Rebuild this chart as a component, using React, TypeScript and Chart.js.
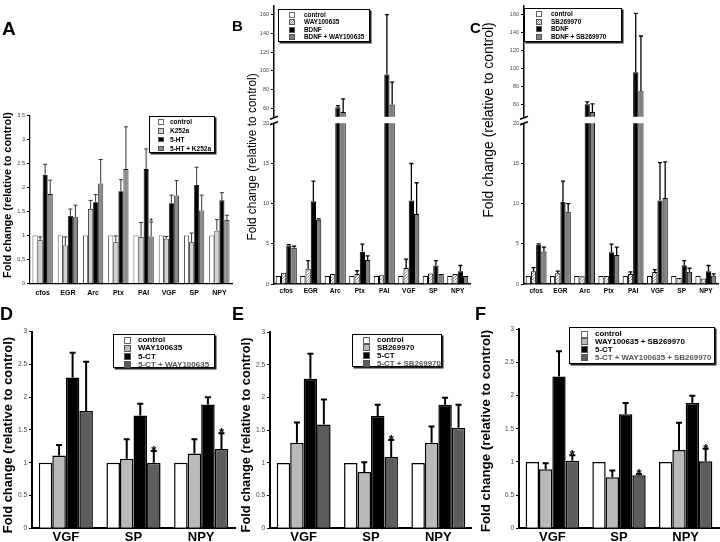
import React, { useEffect, useRef } from 'react';
import { Chart, registerables } from 'chart.js';
Chart.register(...registerables);

const FONT = '"Liberation Sans", Arial, Helvetica, sans-serif';
const YTITLE = 'Fold change (relative to control)';

// ---------- Panel A ----------
const genes = ['cfos', 'EGR', 'Arc', 'Ptx', 'PAI', 'VGF', 'SP', 'NPY'];
const seriesA = ['control', 'K252a', '5-HT', '5-HT + K252a'];
const aControl = [1, 1, 1, 1, 1, 1, 1, 1];
const aControlSd = [0, 0, 0, 0, 0, 0, 0, 0];
const aK252a = [0.9, 0.79, 1.55, 0.86, 0.97, 0.93, 0.86, 1.1];
const aK252aSd = [0.07, 0.18, 0.18, 0.13, 0.3, 0.05, 0.19, 0.23];
const a5HT = [2.26, 1.41, 1.69, 1.92, 2.38, 1.67, 2.05, 1.73];
const a5HTSd = [0.22, 0.14, 0.16, 0.24, 0.42, 0.17, 0.37, 0.16];
const a5HTK = [1.86, 1.38, 2.08, 2.38, 0.98, 1.83, 1.52, 1.32];
const a5HTKSd = [0.29, 0.25, 0.5, 0.88, 0.3, 0.31, 0.32, 0.1];
const aStars = [4];
const aTicks = [0, 0.5, 1, 1.5, 2, 2.5, 3, 3.5];

// ---------- Panel B ----------
const seriesB = ['control', 'WAY100635', 'BDNF', 'BDNF + WAY100635'];
const bControl = [1, 1, 1, 1, 1, 1, 1, 1];
const bControlSd = [0, 0, 0, 0, 0, 0, 0, 0];
const bWay = [1.4, 1.9, 1.25, 1.25, 1.1, 2.0, 1.3, 1.25];
const bWaySd = [0, 1.0, 0, 0.4, 0, 1.1, 0, 0];
const bBdnf = [4.8, 10.3, 61, 4.0, 96, 10.4, 2.3, 1.6];
const bBdnfSd = [0.1, 2.5, 1.8, 0.96, 64, 4.6, 0.6, 0.7];
const bCombo = [4.5, 8.0, 56, 3.0, 64, 8.7, 1.25, 1.0];
const bComboSd = [0.2, 0.1, 14, 0.5, 24, 3.9, 0, 0];

// ---------- Panel C ----------
const seriesC = ['control', 'SB269970', 'BDNF', 'BDNF + SB269970'];
const cControl = [1, 1, 1, 1, 1, 1, 1, 1];
const cControlSd = [0, 0, 0, 0, 0, 0, 0, 0];
const cSb = [1.58, 1.33, 0.95, 1.0, 1.25, 1.5, 0.75, 0.67];
const cSbSd = [0.47, 0.27, 0, 0, 0.25, 0.3, 0, 0];
const cBdnf = [4.9, 10.2, 60.5, 3.96, 96, 10.4, 2.33, 1.6];
const cBdnfSd = [0.1, 2.6, 2.5, 1.0, 65, 4.7, 0.57, 0.7];
const cCombo = [4.04, 9.0, 52, 3.6, 75, 10.7, 1.54, 1.04];
const cComboSd = [0.56, 1.0, 9, 1.0, 61, 4.5, 0.42, 0.21];

const bcTopTicks = [60, 80, 100, 120, 140, 160];
const bcLowTicks = [0, 5, 10, 15, 20];

// ---------- Panels D, E, F ----------
const peptides = ['VGF', 'SP', 'NPY'];
const defTicks = [0, 0.5, 1, 1.5, 2, 2.5, 3];

const seriesD = ['control', 'WAY100635', '5-CT', '5-CT + WAY100635'];
const dControl = [1, 1, 1];
const dControlSd = [0, 0, 0];
const dWay = [1.11, 1.06, 1.14];
const dWaySd = [0.16, 0.3, 0.22];
const d5ct = [2.3, 1.72, 1.89];
const d5ctSd = [0.38, 0.18, 0.11];
const dCombo = [1.79, 1.0, 1.21];
const dComboSd = [0.75, 0.18, 0.24];
const dStars = [1, 2];

const seriesE = ['control', 'SB269970', '5-CT', '5-CT + SB269970'];
const eControl = [1, 1, 1];
const eControlSd = [0, 0, 0];
const eSb = [1.31, 0.86, 1.31];
const eSbSd = [0.31, 0.15, 0.25];
const e5ct = [2.29, 1.72, 1.89];
const e5ctSd = [0.38, 0.17, 0.11];
const eCombo = [1.59, 1.09, 1.54];
const eComboSd = [0.38, 0.26, 0.35];
const eStars = [1];

const seriesF = ['control', 'WAY100635 + SB269970', '5-CT', '5-CT + WAY100635 + SB269970'];
const fControl = [1, 1, 1];
const fControlSd = [0, 0, 0];
const fWs = [0.89, 0.77, 1.18];
const fWsSd = [0.09, 0.1, 0.41];
const f5ct = [2.29, 1.72, 1.89];
const f5ctSd = [0.38, 0.17, 0.11];
const fCombo = [1.02, 0.8, 1.01];
const fComboSd = [0.08, 0.02, 0.19];
const fStars = [0, 1, 2];

// ---------- colours ----------
const WHITE = '#ffffff';
const BLACK = '#000000';
const A_LIGHT = '#d2d2d2';
const A_MID = '#8c8c8c';
const BC_MID = '#808080';
const DEF_LIGHT = '#b9b9b9';
const DEF_DARK = '#5d5d5d';

type Series = { label: string; data: number[]; sd: number[]; color: string; stars?: number[] };
type Style = {
  xFont: number; xPad: number; yFont: number; barBorder: number; catPct: number;
  errW: number; errColor: string; cap: number; starFont: number; starBold: boolean; axisW: number;
};

const styleA: Style = { xFont: 7, xPad: 5, yFont: 5.5, barBorder: 0.8, catPct: 0.8, errW: 1, errColor: '#333', cap: 2, starFont: 9, starBold: false, axisW: 1.2 };
const styleBC: Style = { xFont: 6.5, xPad: 3, yFont: 5.5, barBorder: 1, catPct: 0.86, errW: 1.3, errColor: '#000', cap: 2, starFont: 9, starBold: false, axisW: 1.5 };
const styleDEF: Style = { xFont: 13, xPad: 1, yFont: 6.5, barBorder: 1.5, catPct: 0.8, errW: 2, errColor: '#000', cap: 3, starFont: 13, starBold: true, axisW: 2 };

function makeHatch(ctx: CanvasRenderingContext2D) {
  const c = document.createElement('canvas');
  c.width = 3; c.height = 3;
  const g = c.getContext('2d')!;
  g.fillStyle = '#fff'; g.fillRect(0, 0, 3, 3);
  g.fillStyle = '#8a8a8a';
  g.fillRect(0, 0, 1, 1); g.fillRect(2, 1, 1, 1); g.fillRect(1, 2, 1, 1);
  return ctx.createPattern(c, 'repeat');
}

type PanelProps = {
  canvas: [number, number, number, number];
  area: [number, number, number, number];
  labels: string[];
  series: Series[];
  yMin: number; yMax: number; yTicks: number[];
  showX: boolean;
  st: Style;
  breakMark?: boolean;
};

function BarPanel(p: PanelProps) {
  const ref = useRef<HTMLCanvasElement | null>(null);
  const [cl, ct, cw, ch] = p.canvas;
  const [al, at, ar, ab] = p.area;
  useEffect(() => {
    const canvas = ref.current!;
    const ctx = canvas.getContext('2d')!;
    const st = p.st;
    const hatch = makeHatch(ctx);
    const yWidth = al - cl;
    const padTop = at - ct;
    const padRight = cl + cw - ar;
    const bottomSpace = ct + ch - ab;
    const datasets = p.series.map((s) => ({
      label: s.label,
      data: s.data,
      sd: s.sd,
      stars: s.stars || [],
      backgroundColor: s.color === 'hatch' ? hatch : s.color,
      borderColor: '#000',
      borderWidth: st.barBorder,
      barPercentage: 1,
      categoryPercentage: st.catPct,
      clip: 0,
    }));
    const errPlugin = {
      id: 'errbars',
      afterDatasetsDraw(chart: any) {
        const c = chart.ctx;
        const ca = chart.chartArea;
        const y = chart.scales.y;
        c.save();
        c.beginPath();
        c.rect(ca.left, ca.top - 2, ca.right - ca.left, ca.bottom - ca.top + 2);
        c.clip();
        c.strokeStyle = st.errColor;
        c.lineWidth = st.errW;
        chart.data.datasets.forEach((ds: any, di: number) => {
          const meta = chart.getDatasetMeta(di);
          meta.data.forEach((bar: any, i: number) => {
            const sd = ds.sd[i];
            if (!sd) return;
            const v = ds.data[i];
            const y0 = y.getPixelForValue(v);
            const y1 = y.getPixelForValue(v + sd);
            c.beginPath();
            c.moveTo(bar.x, y0); c.lineTo(bar.x, y1);
            c.moveTo(bar.x - st.cap, y1); c.lineTo(bar.x + st.cap, y1);
            c.stroke();
          });
        });
        c.restore();
        c.save();
        c.fillStyle = '#000';
        c.font = `${st.starBold ? 'bold ' : ''}${st.starFont}px ${FONT}`;
        c.textAlign = 'center';
        c.textBaseline = 'alphabetic';
        chart.data.datasets.forEach((ds: any, di: number) => {
          const meta = chart.getDatasetMeta(di);
          (ds.stars || []).forEach((i: number) => {
            const bar = meta.data[i];
            const top = y.getPixelForValue(ds.data[i] + (ds.sd[i] || 0));
            c.fillText('*', bar.x, top - 1.5 + 0.42 * st.starFont);
          });
        });
        c.restore();
      },
      afterDraw(chart: any) {
        if (!p.breakMark) return;
        const c = chart.ctx;
        const ca = chart.chartArea;
        c.save();
        c.strokeStyle = '#000';
        c.lineWidth = 1.6;
        [ca.top - 5.5, ca.top].forEach((yy: number) => {
          c.beginPath();
          c.moveTo(ca.left - 4, yy + 1.5);
          c.lineTo(ca.left + 4, yy - 1.5);
          c.stroke();
        });
        c.restore();
      },
    };
    const xScale: any = {
      type: 'category',
      display: p.showX,
      offset: true,
      grid: { display: true, drawOnChartArea: false, drawTicks: false, color: 'rgba(0,0,0,0)' },
      border: { display: true, color: '#000', width: st.axisW },
      ticks: { color: '#000', font: { family: FONT, size: st.xFont, weight: 'bold' }, padding: st.xPad, maxRotation: 0, autoSkip: false },
    };
    if (p.showX) xScale.afterFit = (s: any) => { s.height = bottomSpace; };
    const chart = new Chart(ctx, {
      type: 'bar',
      data: { labels: p.labels, datasets: datasets as any },
      options: {
        responsive: false,
        animation: false,
        devicePixelRatio: 1,
        layout: { padding: { left: 0, top: padTop, right: padRight, bottom: p.showX ? 0 : bottomSpace } },
        plugins: { legend: { display: false }, tooltip: { enabled: false }, title: { display: false } },
        scales: {
          x: xScale,
          y: {
            type: 'linear',
            min: p.yMin,
            max: p.yMax,
            grid: { display: true, drawOnChartArea: false, drawTicks: true, tickLength: 3, color: '#000', lineWidth: 1 },
            border: { display: true, color: '#000', width: st.axisW },
            ticks: {
              color: '#444',
              font: { family: FONT, size: st.yFont },
              padding: 2,
              autoSkip: false,
              callback: (v: any) => String(v),
            },
            afterBuildTicks: (s: any) => { s.ticks = p.yTicks.map((v) => ({ value: v })); },
            afterFit: (s: any) => { s.width = yWidth; },
          } as any,
        },
      },
      plugins: [errPlugin],
    });
    return () => chart.destroy();
  }, []);
  return <canvas ref={ref} width={cw} height={ch} style={{ position: 'absolute', left: cl, top: ct, width: cw, height: ch }} />;
}

type LegendItem = { label: string; color: string; textColor?: string };
function Legend(props: { box: [number, number, number, number]; items: LegendItem[]; font: number; sw: number; swLeft: number; textLeft: number; first: number; rowH: number }) {
  const [l, t, w, h] = props.box;
  return (
    <div style={{ position: 'absolute', left: l, top: t, width: w, height: h, border: '1px solid #000', boxShadow: '1.5px 1.5px 0 #222', background: '#fff', boxSizing: 'border-box' }}>
      {props.items.map((it, i) => {
        const cy = props.first + i * props.rowH;
        const bg = it.color === 'hatch'
          ? 'repeating-conic-gradient(#8a8a8a 0% 25%, #ffffff 0% 50%) 0 0 / 2px 2px'
          : it.color;
        return (
          <React.Fragment key={i}>
            <div style={{ position: 'absolute', left: props.swLeft, top: cy - props.sw / 2, width: props.sw, height: props.sw, background: bg, border: it.color === WHITE ? '0.8px solid #666' : '0.8px solid #555', boxSizing: 'border-box' }} />
            <div style={{ position: 'absolute', left: props.textLeft, top: cy - props.font * 0.6, fontFamily: FONT, fontSize: props.font, fontWeight: 'bold', lineHeight: 1.2, whiteSpace: 'nowrap', color: it.textColor || '#000' }}>{it.label}</div>
          </React.Fragment>
        );
      })}
    </div>
  );
}

function Letter(props: { text: string; left: number; baseline: number; size: number }) {
  return (
    <div style={{ position: 'absolute', left: props.left, top: props.baseline - 0.8465 * props.size, fontFamily: FONT, fontWeight: 'bold', fontSize: props.size, lineHeight: 1 }}>{props.text}</div>
  );
}

function YTitle(props: { cx: number; cy: number; size: number; bold: boolean }) {
  return (
    <div style={{ position: 'absolute', left: props.cx, top: props.cy, transform: 'translate(-50%, -50%) rotate(-90deg)', fontFamily: FONT, fontSize: props.size, fontWeight: props.bold ? 'bold' : 'normal', whiteSpace: 'nowrap', lineHeight: 1 }}>{YTITLE}</div>
  );
}

export default function App() {
  const sA: Series[] = [
    { label: seriesA[0], data: aControl, sd: aControlSd, color: WHITE },
    { label: seriesA[1], data: aK252a, sd: aK252aSd, color: A_LIGHT },
    { label: seriesA[2], data: a5HT, sd: a5HTSd, color: BLACK },
    { label: seriesA[3], data: a5HTK, sd: a5HTKSd, color: A_MID, stars: aStars },
  ];
  const sB: Series[] = [
    { label: seriesB[0], data: bControl, sd: bControlSd, color: WHITE },
    { label: seriesB[1], data: bWay, sd: bWaySd, color: 'hatch' },
    { label: seriesB[2], data: bBdnf, sd: bBdnfSd, color: BLACK },
    { label: seriesB[3], data: bCombo, sd: bComboSd, color: BC_MID },
  ];
  const sC: Series[] = [
    { label: seriesC[0], data: cControl, sd: cControlSd, color: WHITE },
    { label: seriesC[1], data: cSb, sd: cSbSd, color: 'hatch' },
    { label: seriesC[2], data: cBdnf, sd: cBdnfSd, color: BLACK },
    { label: seriesC[3], data: cCombo, sd: cComboSd, color: BC_MID },
  ];
  const sD: Series[] = [
    { label: seriesD[0], data: dControl, sd: dControlSd, color: WHITE },
    { label: seriesD[1], data: dWay, sd: dWaySd, color: DEF_LIGHT },
    { label: seriesD[2], data: d5ct, sd: d5ctSd, color: BLACK },
    { label: seriesD[3], data: dCombo, sd: dComboSd, color: DEF_DARK, stars: dStars },
  ];
  const sE: Series[] = [
    { label: seriesE[0], data: eControl, sd: eControlSd, color: WHITE },
    { label: seriesE[1], data: eSb, sd: eSbSd, color: DEF_LIGHT },
    { label: seriesE[2], data: e5ct, sd: e5ctSd, color: BLACK },
    { label: seriesE[3], data: eCombo, sd: eComboSd, color: DEF_DARK, stars: eStars },
  ];
  const sF: Series[] = [
    { label: seriesF[0], data: fControl, sd: fControlSd, color: WHITE },
    { label: seriesF[1], data: fWs, sd: fWsSd, color: DEF_LIGHT },
    { label: seriesF[2], data: f5ct, sd: f5ctSd, color: BLACK },
    { label: seriesF[3], data: fCombo, sd: fComboSd, color: DEF_DARK, stars: fStars },
  ];
  const legendItems = (names: string[], cols: string[], lastGray: boolean): LegendItem[] =>
    names.map((n, i) => ({ label: n, color: cols[i], textColor: lastGray && i === 3 ? '#555' : '#000' }));

  return (
    <div style={{ position: 'absolute', left: 0, top: 0, width: 720, height: 542, overflow: 'hidden', background: '#fff' }}>
      {/* A */}
      <BarPanel canvas={[0, 100, 240, 200]} area={[30, 115.3, 232, 283.5]} labels={genes} series={sA} yMin={0} yMax={3.5} yTicks={aTicks} showX st={styleA} />
      {/* B */}
      <BarPanel canvas={[232, 0, 240, 122]} area={[274, 5, 470, 117.3]} labels={genes} series={sB} yMin={51} yMax={170} yTicks={bcTopTicks} showX={false} st={styleBC} />
      <BarPanel canvas={[232, 112, 240, 188]} area={[274, 123.3, 470, 284]} labels={genes} series={sB} yMin={0} yMax={20} yTicks={bcLowTicks} showX st={styleBC} breakMark />
      {/* C */}
      <BarPanel canvas={[480, 0, 240, 122]} area={[524, 1, 718, 117.3]} labels={genes} series={sC} yMin={46.7} yMax={170} yTicks={bcTopTicks} showX={false} st={styleBC} />
      <BarPanel canvas={[480, 112, 240, 188]} area={[524, 123.3, 718, 284]} labels={genes} series={sC} yMin={0} yMax={20} yTicks={bcLowTicks} showX st={styleBC} breakMark />
      {/* D E F */}
      <BarPanel canvas={[0, 320, 240, 222]} area={[32, 331.7, 235, 528.3]} labels={peptides} series={sD} yMin={0} yMax={3} yTicks={defTicks} showX st={styleDEF} />
      <BarPanel canvas={[232, 320, 240, 222]} area={[270, 332.3, 472, 528.3]} labels={peptides} series={sE} yMin={0} yMax={3} yTicks={defTicks} showX st={styleDEF} />
      <BarPanel canvas={[480, 320, 240, 222]} area={[519, 329.3, 719, 528.3]} labels={peptides} series={sF} yMin={0} yMax={3} yTicks={defTicks} showX st={styleDEF} />

      <Legend box={[149, 116, 66, 37]} items={legendItems(seriesA, [WHITE, A_LIGHT, BLACK, A_MID], false)} font={6.5} sw={5.5} swLeft={8} textLeft={20} first={5} rowH={8.8} />
      <Legend box={[278, 9, 92, 33]} items={legendItems(seriesB, [WHITE, 'hatch', BLACK, BC_MID], false)} font={6.4} sw={6} swLeft={10} textLeft={25} first={4.5} rowH={7.5} />
      <Legend box={[524, 8, 98, 34]} items={legendItems(seriesC, [WHITE, 'hatch', BLACK, BC_MID], false)} font={6.4} sw={6} swLeft={11} textLeft={26} first={5} rowH={7.6} />
      <Legend box={[113, 334, 102, 34]} items={legendItems(seriesD, [WHITE, DEF_LIGHT, BLACK, DEF_DARK], true)} font={8} sw={7} swLeft={10} textLeft={24} first={5} rowH={8.2} />
      <Legend box={[352, 334, 90, 33]} items={legendItems(seriesE, [WHITE, DEF_LIGHT, BLACK, DEF_DARK], true)} font={7.9} sw={7} swLeft={10} textLeft={24} first={5} rowH={7.9} />
      <Legend box={[569, 327, 146, 37]} items={legendItems(seriesF, [WHITE, DEF_LIGHT, BLACK, DEF_DARK], true)} font={7.9} sw={7} swLeft={11} textLeft={25} first={6} rowH={7.8} />

      <Letter text="A" left={2} baseline={35} size={19} />
      <Letter text="B" left={232} baseline={31} size={15} />
      <Letter text="C" left={470} baseline={33} size={15} />
      <Letter text="D" left={0} baseline={320} size={18} />
      <Letter text="E" left={232} baseline={320} size={18} />
      <Letter text="F" left={475} baseline={320} size={18} />

      <YTitle cx={7} cy={195} size={10.9} bold />
      <YTitle cx={253} cy={157} size={11.9} bold={false} />
      <YTitle cx={489} cy={119.5} size={13.9} bold={false} />
      <YTitle cx={7.5} cy={435} size={12.9} bold />
      <YTitle cx={246} cy={435} size={12.8} bold />
      <YTitle cx={486} cy={431} size={13.3} bold />
    </div>
  );
}
